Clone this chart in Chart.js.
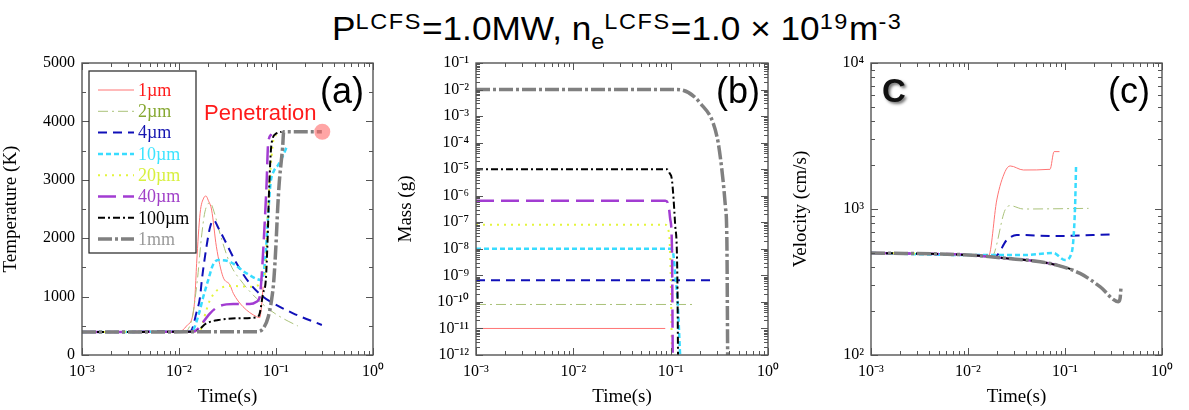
<!DOCTYPE html>
<html>
<head>
<meta charset="utf-8">
<script src="https://cdn.jsdelivr.net/npm/chart.js@4.4.0/dist/chart.umd.min.js"></script>
<style>
  body { margin:0; background:#fff; width:1189px; height:410px; position:relative; overflow:hidden; }
  canvas { position:absolute; }
  #title { position:absolute; left:332px; top:0px; font:33px 'Liberation Sans', Arial, sans-serif; white-space:nowrap; line-height:44px; color:#000; transform-origin:left top; }
  #title .sp { font-size:22px; vertical-align:11px; letter-spacing:1.5px; }
  #title .sb { font-size:22px; vertical-align:-9px; }
</style>
</head>
<body>
<div id="title">P<span class="sp">LCFS</span>=1.0MW, n<span class="sb">e</span><span class="sp">LCFS</span>=1.0 × 10<span class="sp">19</span>m<span class="sp">-3</span></div>
<canvas id="chartA" width="395" height="370" style="left:0;top:40px"></canvas>
<canvas id="chartB" width="395" height="370" style="left:395px;top:40px"></canvas>
<canvas id="chartC" width="399" height="370" style="left:790px;top:40px"></canvas>
<script>
// ---- data ----
const sizeLabels = ['1µm', '2µm', '4µm', '10µm', '20µm', '40µm', '100µm', '1mm'];

const timeTicks = [1e-3, 1e-2, 1e-1, 1];
const timeTickLabels = ['10⁻³', '10⁻²', '10⁻¹', '10⁰'];
const tempTicks = [0, 1000, 2000, 3000, 4000, 5000];
const tempTickLabels = ['0', '1000', '2000', '3000', '4000', '5000'];
const massTicks = [1e-12, 1e-11, 1e-10, 1e-9, 1e-8, 1e-7, 1e-6, 1e-5, 1e-4, 1e-3, 1e-2, 1e-1];
const massTickLabels = ['10⁻¹²', '10⁻¹¹', '10⁻¹⁰', '10⁻⁹', '10⁻⁸', '10⁻⁷', '10⁻⁶', '10⁻⁵', '10⁻⁴', '10⁻³', '10⁻²', '10⁻¹'];
const velTicks = [1e2, 1e3, 1e4];
const velTickLabels = ['10²', '10³', '10⁴'];

// (a) temperature (K) vs time (s)
const tTemp1 = [0.001, 0.0100, 0.0120, 0.0140, 0.0146, 0.0152, 0.0165, 0.0180, 0.0190, 0.0200, 0.0217, 0.0243, 0.0284, 0.0335, 0.0363, 0.0457, 0.0630, 0.0680, 0.0715, 0.0736];
const temp1 = [395, 400, 500, 714, 998, 1570, 2426, 2690, 2722, 2650, 2482, 1854, 1340, 1200, 1056, 827, 656, 640, 900, 1170];
const tTemp2 = [0.001, 0.0110, 0.0135, 0.0155, 0.0170, 0.0185, 0.0209, 0.0230, 0.0264, 0.0335, 0.0457, 0.0630, 0.0866, 0.120, 0.168];
const temp2 = [395, 400, 600, 1300, 2000, 2450, 2607, 2450, 2083, 1570, 1227, 970, 770, 620, 497];
const tTemp4 = [0.001, 0.0125, 0.0135, 0.0150, 0.0165, 0.0172, 0.0192, 0.0210, 0.0229, 0.0250, 0.0284, 0.0392, 0.0536, 0.0736, 0.094, 0.150, 0.297];
const temp4 = [395, 400, 428, 700, 998, 1284, 1854, 2200, 2311, 2200, 2025, 1570, 1227, 998, 885, 714, 514];
const tTemp10 = [0.001, 0.0130, 0.0140, 0.0160, 0.0178, 0.0200, 0.0225, 0.0254, 0.0335, 0.0497, 0.0713, 0.0780, 0.0830, 0.0880, 0.0950, 0.105, 0.119, 0.131];
const temp10 = [395, 400, 428, 700, 998, 1284, 1550, 1626, 1597, 1399, 1284, 1700, 2400, 2950, 3150, 3250, 3424, 3595];
const tTemp20 = [0.001, 0.0135, 0.0165, 0.0190, 0.0209, 0.0264, 0.0363, 0.0536, 0.066, 0.072, 0.0769, 0.083, 0.090, 0.094, 0.100];
const temp20 = [395, 400, 428, 750, 942, 1142, 1181, 1170, 1198, 1300, 1400, 2543, 3400, 3681, 3766];
const tTemp40 = [0.001, 0.0140, 0.0152, 0.0209, 0.0254, 0.0363, 0.0536, 0.063, 0.068, 0.0707, 0.075, 0.080, 0.083, 0.090];
const temp40 = [395, 400, 428, 714, 827, 873, 873, 913, 998, 1284, 2000, 2940, 3624, 3780];
const tTemp100 = [0.001, 0.0146, 0.0192, 0.0254, 0.0392, 0.063, 0.068, 0.0735, 0.0785, 0.082, 0.085, 0.090, 0.101, 0.114];
const temp100 = [395, 400, 543, 599, 628, 645, 714, 1056, 1284, 2000, 2854, 3624, 3795, 3823];
const tTemp1mm = [0.001, 0.063, 0.074, 0.0833, 0.090, 0.095, 0.100, 0.104, 0.108, 0.113, 0.117, 0.120, 0.297];
const temp1mm = [395, 400, 457, 656, 942, 1284, 1900, 2500, 2950, 3300, 3550, 3823, 3823];
const tPenetration = [0.30];
const tempPenetration = [3823];

// (b) mass (g) vs time (s)
const tMass1 = [0.001, 0.088];
const mass1 = [1e-11, 1e-11];
const tMass2 = [0.001, 0.171];
const mass2 = [8e-11, 8e-11];
const tMass4 = [0.001, 0.255];
const mass4 = [6.5e-10, 6.5e-10];
const tMass10 = [0.001, 0.099, 0.106, 0.111, 0.118, 0.125];
const mass10 = [1e-8, 1e-8, 7e-9, 1.2e-9, 1e-10, 1e-12];
const tMass20 = [0.001, 0.088, 0.096, 0.100, 0.103];
const mass20 = [8e-8, 8e-8, 4e-8, 1.3e-9, 1e-12];
const tMass40 = [0.001, 0.088, 0.095, 0.099, 0.103, 0.105];
const mass40 = [6.5e-7, 6.5e-7, 4.5e-7, 1.3e-7, 1.3e-8, 1e-12];
const tMass100 = [0.001, 0.0914, 0.0976, 0.103, 0.111, 0.117, 0.119];
const mass100 = [1e-5, 1e-5, 7e-6, 4e-6, 9e-8, 1.2e-9, 1e-12];
const tMass1mm = [0.001, 0.116, 0.201, 0.299, 0.336, 0.365, 0.378, 0.385];
const mass1mm = [1e-2, 1e-2, 3.1e-3, 1.7e-4, 9.3e-6, 3.9e-7, 2.1e-8, 1e-12];

// (c) velocity (cm/s) vs time (s)
const tVel1 = [0.001, 0.01, 0.0163, 0.0198, 0.0241, 0.0272, 0.0373, 0.0701, 0.0772, 0.0877];
const vel1 = [500, 484, 476, 1153, 1803, 1972, 1850, 1870, 2472, 2472];
const tVel2 = [0.001, 0.01, 0.0176, 0.0241, 0.0272, 0.0373, 0.175];
const vel2 = [500, 484, 474, 985, 1054, 1000, 1010];
const tVel4 = [0.001, 0.01, 0.019, 0.0251, 0.0318, 0.0823, 0.303];
const vel4 = [500, 484, 472, 612, 664, 653, 670];
const tVel10 = [0.001, 0.01, 0.0373, 0.076, 0.1, 0.117, 0.127, 0.130];
const vel10 = [500, 484, 484, 500, 447, 500, 1037, 1972];
const tVel20 = [0.001, 0.01, 0.0251, 0.0555, 0.090];
const vel20 = [500, 484, 459, 435, 408];
const tVel40 = [0.001, 0.01, 0.0251, 0.0555, 0.088];
const vel40 = [500, 484, 459, 435, 410];
const tVel100 = [0.001, 0.01, 0.0251, 0.0555, 0.0823, 0.114];
const vel100 = [500, 484, 459, 435, 413, 388];
const tVel1mm = [0.001, 0.01, 0.0251, 0.0555, 0.0823, 0.143, 0.231, 0.355, 0.370, 0.378];
const vel1mm = [500, 484, 459, 435, 413, 362, 293, 232, 245, 293];

// ---- styles ----
const serif = "'Liberation Serif', 'Times New Roman', serif";
const sans = "'Liberation Sans', Arial, sans-serif";
const styles = [
  { color: '#ff7474', text: '#ff1a1a', width: 1,   dash: [] },
  { color: '#aac27a', text: '#86a832', width: 1,   dash: [10, 4, 2, 4] },
  { color: '#1010b8', text: '#1414b0', width: 2,   dash: [9, 6] },
  { color: '#38dcff', text: '#3ee4ff', width: 2.5, dash: [5, 3] },
  { color: '#e4f53c', text: '#d8f040', width: 2,   dash: [2, 5] },
  { color: '#a23cd2', text: '#a040c8', width: 2.5, dash: [18, 7] },
  { color: '#000000', text: '#000000', width: 2,   dash: [7, 3, 2, 3] },
  { color: '#808080', text: '#9a9a9a', width: 3.5, dash: [14, 3, 3, 3] }
];

// stretch the title to the width it has in the original
const titleEl = document.getElementById('title');
titleEl.style.transform = 'scaleX(' + (570 / titleEl.offsetWidth) + ')';

function lineSet(i, ts, vs) {
  const st = styles[i];
  return {
    label: sizeLabels[i],
    data: ts.map((t, k) => ({ x: t, y: vs[k] })),
    borderColor: st.color, borderWidth: st.width, borderDash: st.dash,
    pointRadius: 0, fill: false, cubicInterpolationMode: 'monotone',
    order: 20 - i
  };
}

function logMinors(min, max) {
  const out = [];
  for (let d = Math.round(Math.log10(min)); d < Math.round(Math.log10(max)); d++)
    for (let k = 2; k <= 9; k++) out.push(k * Math.pow(10, d));
  return out;
}

// frame + inward ticks on all four sides
const frameTicks = {
  id: 'frameTicks',
  afterDatasetsDraw(chart, args, o) {
    const { ctx, chartArea: a } = chart;
    const xs = chart.scales.x, ys = chart.scales.y;
    ctx.save();
    ctx.strokeStyle = '#555';
    ctx.lineWidth = 1;
    ctx.beginPath();
    const xt = (v, len) => {
      const p = Math.round(xs.getPixelForValue(v)) + 0.5;
      ctx.moveTo(p, a.bottom); ctx.lineTo(p, a.bottom - len);
      ctx.moveTo(p, a.top); ctx.lineTo(p, a.top + len);
    };
    const yt = (v, len) => {
      const p = Math.round(ys.getPixelForValue(v)) + 0.5;
      ctx.moveTo(a.left, p); ctx.lineTo(a.left + len, p);
      ctx.moveTo(a.right, p); ctx.lineTo(a.right - len, p);
    };
    o.xMajor.forEach(v => xt(v, 7));
    o.xMinor.forEach(v => xt(v, 4));
    o.yMajor.forEach(v => yt(v, 7));
    o.yMinor.forEach(v => yt(v, 4));
    ctx.stroke();
    ctx.lineWidth = 1.4;
    ctx.strokeRect(a.left, a.top, a.right - a.left, a.bottom - a.top);
    ctx.restore();
  }
};

// free text inside the plot (panel letters etc.)
const notes = {
  id: 'notes',
  afterDraw(chart, args, o) {
    const { ctx, chartArea: a } = chart;
    (o.items || []).forEach(n => {
      ctx.save();
      ctx.font = n.font;
      ctx.fillStyle = n.color;
      ctx.textAlign = n.align || 'left';
      ctx.textBaseline = 'alphabetic';
      if (n.shadow) {
        ctx.shadowColor = 'rgba(0,0,0,0.55)';
        ctx.shadowBlur = 3;
        ctx.shadowOffsetX = 2;
        ctx.shadowOffsetY = 2;
      }
      ctx.fillText(n.text, a.left + n.x, a.top + n.y);
      ctx.restore();
    });
  }
};

// boxed legend like the original
const boxLegend = {
  id: 'boxLegend',
  afterDraw(chart, args, o) {
    if (!o.show) return;
    const { ctx, chartArea: a } = chart;
    const x0 = a.left + 7, y0 = a.top + 8, w = 107, h = 182;
    ctx.save();
    ctx.fillStyle = '#fff';
    ctx.fillRect(x0, y0, w, h);
    ctx.strokeStyle = '#222';
    ctx.lineWidth = 1.2;
    ctx.strokeRect(x0, y0, w, h);
    sizeLabels.forEach((lab, i) => {
      const st = styles[i];
      const y = y0 + 19 + i * 21.3;
      ctx.beginPath();
      ctx.setLineDash(st.dash);
      ctx.strokeStyle = st.color;
      ctx.lineWidth = st.width;
      ctx.moveTo(x0 + 9, y);
      ctx.lineTo(x0 + 45, y);
      ctx.stroke();
      ctx.setLineDash([]);
      ctx.fillStyle = st.text;
      ctx.font = '18px ' + serif;
      ctx.textBaseline = 'middle';
      ctx.fillText(lab, x0 + 49, y + 1);
    });
    ctx.restore();
  }
};

function timeScale() {
  return {
    type: 'logarithmic', min: 1e-3, max: 1,
    afterBuildTicks: s => { s.ticks = timeTicks.map(v => ({ value: v })); },
    afterFit: s => { s.height = 55; },
    grid: { display: false, drawTicks: false },
    border: { display: false },
    ticks: { autoSkip: false, maxRotation: 0, padding: 7, color: '#000',
             font: { family: serif, size: 16 }, callback: (v, i) => timeTickLabels[i] },
    title: { display: true, text: 'Time(s)', color: '#000',
             font: { family: serif, size: 19 }, padding: { top: 0, bottom: 2 } }
  };
}

function valueScale(type, min, max, ticks, labels, title, width) {
  return {
    type, min, max,
    afterBuildTicks: s => { s.ticks = ticks.map(v => ({ value: v })); },
    afterFit: s => { s.width = width; },
    grid: { display: false, drawTicks: false },
    border: { display: false },
    ticks: { autoSkip: false, padding: 7, color: '#000',
             font: { family: serif, size: 16 }, callback: (v, i) => labels[i] },
    title: { display: true, text: title, color: '#000',
             font: { family: serif, size: 19 }, padding: { top: 0, bottom: 6 } }
  };
}

function makeChart(id, datasets, yScale, padRight, frameOpts, noteItems, legendShow) {
  return new Chart(document.getElementById(id), {
    type: 'line',
    data: { datasets },
    options: {
      responsive: false, animation: false,
      layout: { padding: { left: 0, right: padRight, top: 23, bottom: 0 } },
      scales: { x: timeScale(), y: yScale },
      plugins: {
        legend: { display: false }, tooltip: { enabled: false },
        frameTicks: frameOpts,
        notes: { items: noteItems },
        boxLegend: { show: legendShow }
      }
    },
    plugins: [frameTicks, notes, boxLegend]
  });
}

const xMinor = logMinors(1e-3, 1);

// (a) temperature
const tempSets = [
  lineSet(0, tTemp1, temp1), lineSet(1, tTemp2, temp2), lineSet(2, tTemp4, temp4),
  lineSet(3, tTemp10, temp10), lineSet(4, tTemp20, temp20), lineSet(5, tTemp40, temp40),
  lineSet(6, tTemp100, temp100), lineSet(7, tTemp1mm, temp1mm),
  { label: 'Penetration', data: tPenetration.map((t, k) => ({ x: t, y: tempPenetration[k] })),
    showLine: false, pointRadius: 8, pointBackgroundColor: 'rgba(255,105,105,0.6)',
    pointBorderWidth: 0, order: 0 }
];
makeChart('chartA', tempSets,
  valueScale('linear', 0, 5000, tempTicks, tempTickLabels, 'Temperature (K)', 82), 22,
  { xMajor: timeTicks, xMinor, yMajor: tempTicks, yMinor: [500, 1500, 2500, 3500, 4500] },
  [
    { text: '(a)', x: 282, y: 40, font: '36px ' + sans, color: '#000', align: 'right' },
    { text: 'Penetration', x: 122, y: 57, font: '22px ' + sans, color: '#ff1a1a' }
  ], true);

// (b) mass
const massSets = [
  lineSet(0, tMass1, mass1), lineSet(1, tMass2, mass2), lineSet(2, tMass4, mass4),
  lineSet(3, tMass10, mass10), lineSet(4, tMass20, mass20), lineSet(5, tMass40, mass40),
  lineSet(6, tMass100, mass100), lineSet(7, tMass1mm, mass1mm)
];
makeChart('chartB', massSets,
  valueScale('logarithmic', 1e-12, 1e-1, massTicks, massTickLabels, 'Mass (g)', 81), 22,
  { xMajor: timeTicks, xMinor, yMajor: massTicks, yMinor: logMinors(1e-12, 1e-1) },
  [ { text: '(b)', x: 284, y: 40, font: '36px ' + sans, color: '#000', align: 'right' } ],
  false);

// (c) velocity
const velSets = [
  lineSet(0, tVel1, vel1), lineSet(1, tVel2, vel2), lineSet(2, tVel4, vel4),
  lineSet(3, tVel10, vel10), lineSet(4, tVel20, vel20), lineSet(5, tVel40, vel40),
  lineSet(6, tVel100, vel100), lineSet(7, tVel1mm, vel1mm)
];
makeChart('chartC', velSets,
  valueScale('logarithmic', 1e2, 1e4, velTicks, velTickLabels, 'Velocity (cm/s)', 81), 27,
  { xMajor: timeTicks, xMinor, yMajor: velTicks, yMinor: logMinors(1e2, 1e4) },
  [
    { text: '(c)', x: 279, y: 40, font: '36px ' + sans, color: '#000', align: 'right' },
    { text: 'C', x: 11, y: 39, font: 'bold 33px ' + sans, color: '#111', shadow: true }
  ], false);
</script>
</body>
</html>
